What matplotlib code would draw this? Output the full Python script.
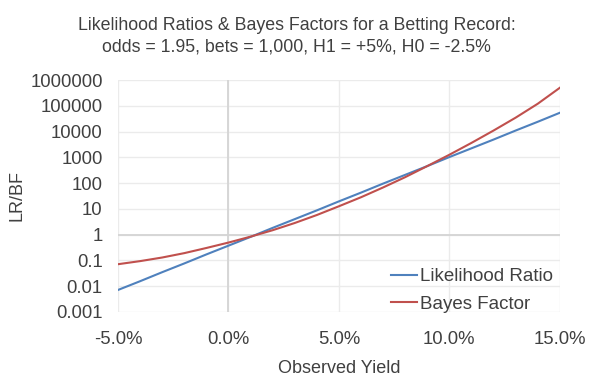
import matplotlib
matplotlib.use("Agg")
import matplotlib.pyplot as plt
from matplotlib.ticker import FuncFormatter, FixedLocator, NullLocator

plt.rcParams['font.family'] = ['Liberation Sans', 'DejaVu Sans']

# Observed yield (%)
yield_pct = [-5, -4, -3, -2, -1, 0, 1, 2, 3, 4, 5, 6, 7, 8, 9, 10, 11, 12, 13, 14, 15]
# log10 of likelihood ratio
lr_log10 = [-2.15, -1.81, -1.46, -1.12, -0.77, -0.43, -0.09, 0.26, 0.60, 0.94, 1.29,
            1.63, 1.98, 2.32, 2.66, 3.01, 3.35, 3.69, 4.04, 4.38, 4.73]
# log10 of Bayes factor
bf_log10 = [-1.15, -1.03, -0.89, -0.72, -0.52, -0.31, -0.08, 0.17, 0.45, 0.76, 1.10,
            1.45, 1.83, 2.23, 2.66, 3.10, 3.56, 4.04, 4.54, 5.08, 5.70]

y_ticks = [0.001, 0.01, 0.1, 1, 10, 100, 1000, 10000, 100000, 1000000]
y_tick_labels = ["0.001", "0.01", "0.1", "1", "10", "100", "1000", "10000", "100000", "1000000"]
x_ticks = [-5, 0, 5, 10, 15]

lr = [10 ** v for v in lr_log10]
bf = [10 ** v for v in bf_log10]

TXT = '#404040'

fig = plt.figure(figsize=(5.93, 3.85), dpi=100)
ax = fig.add_axes([0.199, 0.190, 0.745, 0.602])

ax.set_yscale('log')
ax.set_xlim(-5, 15)
ax.set_ylim(0.001, 1000000)

ax.yaxis.set_major_locator(FixedLocator(y_ticks))
ax.yaxis.set_minor_locator(NullLocator())
ax.set_yticklabels(y_tick_labels)
ax.xaxis.set_major_locator(FixedLocator(x_ticks))
ax.xaxis.set_major_formatter(FuncFormatter(lambda v, p: f"{v:.1f}%"))

ax.grid(True, color='#ebebeb', linewidth=1.0)
ax.set_axisbelow(True)
ax.axvline(0, color='#d4d4d4', linewidth=1.3, zorder=1)
ax.axhline(1, color='#d4d4d4', linewidth=1.3, zorder=1)
for s in ax.spines.values():
    s.set_visible(False)
ax.tick_params(length=0, labelsize=13.3, colors=TXT)
ax.tick_params(axis='y', pad=11)
ax.tick_params(axis='x', pad=13.5)

ax.plot(yield_pct, lr, color='#4F81BD', linewidth=1.5, label='Likelihood Ratio')
ax.plot(yield_pct, bf, color='#C0504D', linewidth=1.5, label='Bayes Factor')

leg = ax.legend(loc='lower right', bbox_to_anchor=(0.985, -0.003), frameon=False,
                fontsize=13.5, handlelength=1.4, handletextpad=0.15,
                labelspacing=0.55, borderpad=0, borderaxespad=0)
for t in leg.get_texts():
    t.set_color(TXT)

ax.set_xlabel('Observed Yield', fontsize=13, color=TXT, labelpad=9)
ax.set_ylabel('LR/BF', fontsize=13, color=TXT, labelpad=3.5)

fig.text(0.5, 0.906, 'Likelihood Ratios & Bayes Factors for a Betting Record:\nodds = 1.95, bets = 1,000, H1 = +5%, H0 = -2.5%',
         ha='center', va='center', fontsize=12.75, color=TXT, linespacing=1.35)

fig.savefig('out.png', dpi=100, facecolor='white')
